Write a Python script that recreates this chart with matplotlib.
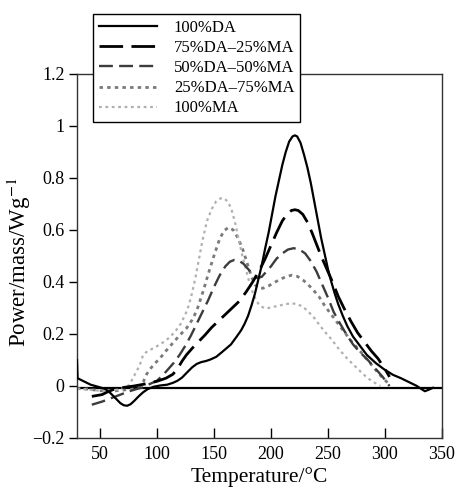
import matplotlib
matplotlib.use("Agg")
import matplotlib.pyplot as plt

plt.rcParams['font.family'] = ['Liberation Serif', 'DejaVu Serif']
plt.rcParams['mathtext.fontset'] = 'stix'
plt.rcParams['lines.scale_dashes'] = False

# ---- data ----
da100_t = [30, 30.5, 35, 42, 50, 55, 59, 64, 68, 71, 74, 77, 80, 84, 88, 92, 97, 103, 109, 114, 118, 122, 126,
           131, 135, 139, 143, 147, 152, 157, 161, 165, 170, 174, 177, 180, 183, 186, 189, 192, 195, 198, 201,
           204, 207, 210, 213, 216, 219, 221, 223, 226, 229, 232, 235, 238, 241, 244, 247, 250, 253, 256, 259,
           263, 267, 272, 278, 284, 292, 299, 307, 314, 321, 328, 332, 335, 338, 342]
da100_p = [0.10, 0.03, 0.02, 0.005, -0.005, -0.012, -0.026, -0.048, -0.066, -0.074, -0.076, -0.07, -0.058,
           -0.04, -0.024, -0.012, -0.003, 0.002, 0.005, 0.012, 0.02, 0.032, 0.05, 0.072, 0.085, 0.092, 0.096,
           0.102, 0.112, 0.13, 0.145, 0.16, 0.19, 0.215, 0.24, 0.27, 0.31, 0.355, 0.41, 0.465, 0.53, 0.59,
           0.66, 0.73, 0.79, 0.85, 0.9, 0.94, 0.96, 0.964, 0.96, 0.935, 0.89, 0.84, 0.78, 0.71, 0.64, 0.57,
           0.51, 0.45, 0.4, 0.355, 0.315, 0.27, 0.23, 0.19, 0.155, 0.12, 0.088, 0.065, 0.043, 0.03, 0.015,
           0.0, -0.012, -0.02, -0.015, -0.007]

m75_t = [43, 52, 58, 64, 72, 80, 90, 100, 108, 114, 118, 122, 126, 131, 136, 142, 148, 154, 160, 166, 172, 178,
         184, 190, 195, 200, 205, 210, 214, 218, 221, 224, 228, 232, 236, 240, 244, 249, 254, 259, 264, 270,
         276, 282, 288, 294, 300, 304]
m75_p = [-0.04, -0.033, -0.02, -0.01, -0.005, 0.0, 0.008, 0.018, 0.03, 0.045, 0.065, 0.095, 0.12, 0.145,
         0.168, 0.195, 0.225, 0.25, 0.275, 0.3, 0.325, 0.36, 0.4, 0.445, 0.49, 0.54, 0.59, 0.635, 0.66, 0.675,
         0.678, 0.675, 0.66, 0.63, 0.59, 0.545, 0.5, 0.45, 0.4, 0.345, 0.3, 0.25, 0.205, 0.17, 0.135, 0.105,
         0.065, 0.035]

m50_t = [43, 52, 58, 64, 70, 76, 82, 88, 94, 100, 105, 110, 115, 120, 125, 130, 135, 140, 145, 150, 155, 160,
         164, 168, 172, 176, 180, 184, 188, 192, 196, 200, 205, 210, 215, 220, 225, 230, 235, 240, 245, 250,
         255, 260, 266, 272, 278, 285, 292, 298, 304]
m50_p = [-0.072, -0.06, -0.05, -0.04, -0.03, -0.02, -0.012, -0.005, 0.008, 0.02, 0.04, 0.065, 0.09, 0.12,
         0.155, 0.195, 0.24, 0.285, 0.33, 0.38, 0.425, 0.46, 0.478, 0.485, 0.482, 0.47, 0.45, 0.43, 0.415,
         0.42, 0.44, 0.46, 0.49, 0.51, 0.525, 0.53, 0.525, 0.51, 0.48, 0.44, 0.39, 0.34, 0.285, 0.245, 0.2,
         0.16, 0.13, 0.1, 0.065, 0.035, 0.0]

m25_t = [30, 40, 50, 60, 70, 80, 85, 88, 91, 95, 99, 103, 108, 114, 120, 126, 131, 135, 138, 141, 145, 150,
         155, 159, 163, 167, 171, 175, 179, 183, 186, 189, 193, 198, 203, 208, 213, 218, 223, 228, 232, 237,
         242, 247, 252, 258, 264, 270, 278, 287, 295, 304]
m25_p = [-0.01, -0.012, -0.018, -0.02, -0.016, -0.01, 0.0, 0.015, 0.045, 0.07, 0.09, 0.108, 0.135, 0.165,
         0.195, 0.222, 0.255, 0.29, 0.33, 0.37, 0.43, 0.5, 0.565, 0.598, 0.61, 0.6, 0.57, 0.53, 0.475, 0.42,
         0.39, 0.377, 0.376, 0.385, 0.398, 0.41, 0.42, 0.426, 0.422, 0.408, 0.393, 0.37, 0.345, 0.31, 0.28,
         0.245, 0.21, 0.175, 0.135, 0.088, 0.045, 0.005]

ma100_t = [30, 40, 50, 60, 68, 73, 76, 79, 82, 85, 88, 92, 97, 102, 107, 112, 117, 121, 125, 128, 131, 134,
           137, 140, 144, 148, 152, 156, 159, 162, 165, 167, 169, 171, 173, 175, 178, 181, 184, 187, 190, 194,
           198, 203, 208, 213, 218, 223, 228, 233, 238, 243, 248, 253, 260, 267, 274, 281, 288, 296]
ma100_p = [-0.01, -0.014, -0.018, -0.018, -0.012, -0.005, 0.005, 0.03, 0.055, 0.08, 0.12, 0.135, 0.145, 0.158,
           0.172, 0.19, 0.215, 0.24, 0.275, 0.31, 0.36, 0.42, 0.49, 0.56, 0.635, 0.68, 0.71, 0.722, 0.722,
           0.71, 0.685, 0.655, 0.62, 0.58, 0.54, 0.5, 0.45, 0.4, 0.36, 0.33, 0.31, 0.3, 0.3, 0.305, 0.31,
           0.315, 0.318, 0.315, 0.305, 0.285, 0.262, 0.232, 0.205, 0.18, 0.14, 0.105, 0.075, 0.045, 0.02, 0.0]

labels = ["100%DA", "75%DA\u201325%MA", "50%DA\u201350%MA", "25%DA\u201375%MA", "100%MA"]
x_ticks = [50, 100, 150, 200, 250, 300, 350]
y_ticks = [-0.2, 0, 0.2, 0.4, 0.6, 0.8, 1.0, 1.2]
y_ticklabels = ["\u22120.2", "0", "0.2", "0.4", "0.6", "0.8", "1", "1.2"]

fig = plt.figure(figsize=(4.55, 4.91), dpi=100)
ax = fig.add_axes([77/455, 1-438/491, 365/455, 364/491])

ax.axhline(-0.006, color='black', lw=1.6, zorder=1)

ax.plot(da100_t, da100_p, color='black', lw=1.6, solid_joinstyle='round', label=labels[0], zorder=5)
ax.plot(m75_t, m75_p, color='black', lw=2.0, linestyle=(0, (17, 6)), label=labels[1], zorder=4)
ax.plot(m50_t, m50_p, color='#3c3c3c', lw=1.7, linestyle=(0, (10, 4.5)), label=labels[2], zorder=3)
ax.plot(m25_t, m25_p, color='#7a7a7a', lw=2.0, linestyle=(0, (2.5, 3)), label=labels[3], zorder=2)
ax.plot(ma100_t, ma100_p, color='#b0b0b0', lw=1.6, linestyle=(0, (2.0, 2.6)), label=labels[4], zorder=2)

ax.set_xlim(30, 350)
ax.set_ylim(-0.2, 1.2)
ax.set_xticks(x_ticks)
ax.set_yticks(y_ticks)
ax.set_yticklabels(y_ticklabels)
ax.tick_params(axis='x', direction='in', length=7, width=1, labelsize=13, pad=6)
ax.tick_params(axis='y', direction='out', length=6, width=1, labelsize=13, pad=3)
for s in ax.spines.values():
    s.set_linewidth(1.0)
    s.set_color('#333333')

ax.set_xlabel("Temperature/\u00b0C", fontsize=15.5, labelpad=3)
ax.set_ylabel("Power/mass/Wg$^{\u22121}$", fontsize=16.5)
ax.yaxis.set_label_coords(-0.12, 0.484)

leg = ax.legend(loc='upper left', bbox_to_anchor=(93/455, 1-14/491), bbox_transform=fig.transFigure,
                fontsize=12, frameon=True, fancybox=False, handlelength=3.5, handletextpad=1.0,
                labelspacing=0.25, borderpad=0.35, borderaxespad=0)
leg.get_frame().set_edgecolor('black')
leg.get_frame().set_linewidth(1.0)
leg.get_frame().set_alpha(1)
leg.set_zorder(10)

fig.savefig("out.png", dpi=100)
